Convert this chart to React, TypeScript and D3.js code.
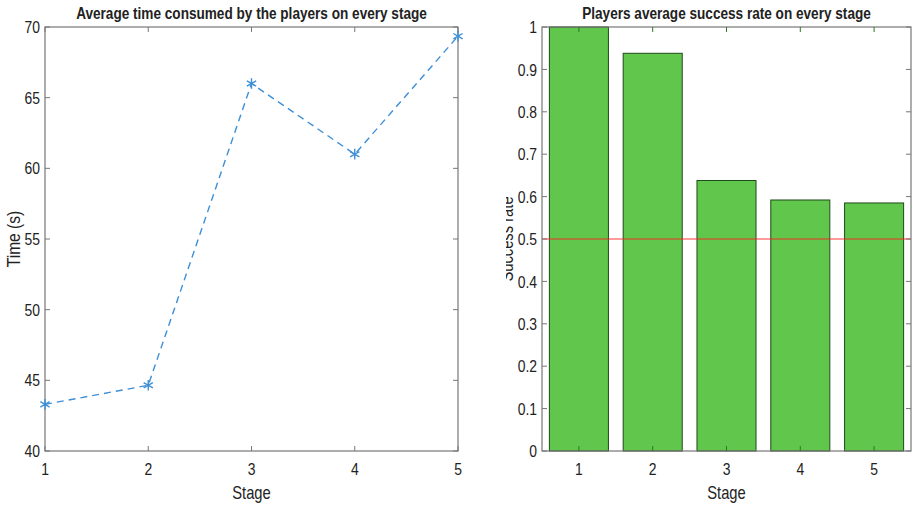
import * as React from 'react';
import {useEffect, useRef} from 'react';
import * as d3 from 'd3';

const W = 913;
const H = 507;

const stages = [1, 2, 3, 4, 5];
const avgTime = [43.3, 44.65, 66.0, 61.0, 69.35];
const successRate = [1.0, 0.938, 0.638, 0.592, 0.585];
const timeTicks = [40, 45, 50, 55, 60, 65, 70];
const rateTicks = [0, 0.1, 0.2, 0.3, 0.4, 0.5, 0.6, 0.7, 0.8, 0.9, 1];
const threshold = 0.5;

const font = "'Liberation Sans', Arial, sans-serif";
const axisColor = '#777';
const textColor = '#222';
const squeeze = 0.82; // the original text is narrow, like a condensed Helvetica

// small helper: text that is squeezed horizontally
const label = (g: any, x: number, y: number, str: string | number, size: number,
  anchor = 'middle', rot = 0, bold = false, dy = '0') =>
  g.append('text')
    .attr('transform', `translate(${x},${y}) rotate(${rot}) scale(${squeeze},1)`)
    .attr('text-anchor', anchor)
    .attr('dy', dy)
    .attr('font-size', size)
    .attr('font-weight', bold ? 'bold' : 'normal')
    .attr('fill', textColor)
    .text(str);

export default function App() {
  const ref = useRef<SVGSVGElement>(null);

  useEffect(() => {
    const svg = d3.select(ref.current!);
    svg.selectAll('*').remove();
    svg.style('font-family', font);

    // ---- left: line chart ----
    const L = {left: 45, right: 458, top: 27, bottom: 451};
    const x1 = d3.scaleLinear().domain([1, 5]).range([L.left, L.right]);
    const y1 = d3.scaleLinear().domain([40, 70]).range([L.bottom, L.top]);
    const g1 = svg.append('g');

    g1.append('rect')
      .attr('x', L.left).attr('y', L.top)
      .attr('width', L.right - L.left).attr('height', L.bottom - L.top)
      .attr('fill', 'white').attr('stroke', axisColor).attr('stroke-width', 1.2);

    const tl = 5;
    stages.forEach(s => {
      const x = x1(s);
      g1.append('line').attr('x1', x).attr('x2', x).attr('y1', L.bottom).attr('y2', L.bottom - tl).attr('stroke', axisColor);
      g1.append('line').attr('x1', x).attr('x2', x).attr('y1', L.top).attr('y2', L.top + tl).attr('stroke', axisColor);
      label(g1, x, 475, s, 17);
    });
    timeTicks.forEach(t => {
      const y = y1(t);
      g1.append('line').attr('x1', L.left).attr('x2', L.left + tl).attr('y1', y).attr('y2', y).attr('stroke', axisColor);
      g1.append('line').attr('x1', L.right).attr('x2', L.right - tl).attr('y1', y).attr('y2', y).attr('stroke', axisColor);
      label(g1, L.left - 5, y, t, 17, 'end', 0, false, '0.36em');
    });

    const line = d3.line<number>().x((_, i) => x1(stages[i])).y(d => y1(d));
    g1.append('path').datum(avgTime).attr('d', line)
      .attr('fill', 'none').attr('stroke', '#3d8fd6').attr('stroke-width', 1.4)
      .attr('stroke-dasharray', '7,5');

    const star = d3.symbol().type(d3.symbolAsterisk).size(80);
    g1.selectAll('.mk').data(avgTime).join('path')
      .attr('transform', (d, i) => `translate(${x1(stages[i])},${y1(d)})`)
      .attr('d', star()).attr('fill', 'none').attr('stroke', '#3d8fd6').attr('stroke-width', 1.4);

    label(g1, (L.left + L.right) / 2, 19, 'Average time consumed by the players on every stage', 16.6, 'middle', 0, true);
    label(g1, (L.left + L.right) / 2, 499, 'Stage', 18);
    label(g1, 20, (L.top + L.bottom) / 2, 'Time (s)', 19, 'middle', -90);

    // ---- right: bar chart ----
    const R = {left: 542, right: 911, top: 27, bottom: 451};
    const x2 = d3.scaleLinear().domain([0.5, 5.5]).range([R.left, R.right]);
    const y2 = d3.scaleLinear().domain([0, 1]).range([R.bottom, R.top]);
    const g2 = svg.append('g');

    g2.append('defs').append('clipPath').attr('id', 'ylab-clip')
      .append('rect').attr('x', 506).attr('y', 0).attr('width', 40).attr('height', H);

    g2.append('rect')
      .attr('x', R.left).attr('y', R.top)
      .attr('width', R.right - R.left).attr('height', R.bottom - R.top)
      .attr('fill', 'white');

    const bw = 0.8;
    g2.selectAll('.bar').data(successRate).join('rect')
      .attr('x', (_, i) => x2(stages[i] - bw / 2))
      .attr('width', x2(bw) - x2(0))
      .attr('y', d => y2(d))
      .attr('height', d => R.bottom - y2(d))
      .attr('fill', '#61c64c').attr('stroke', '#1e4a1a').attr('stroke-width', 1);

    g2.append('line').attr('x1', R.left).attr('x2', R.right).attr('y1', y2(threshold)).attr('y2', y2(threshold))
      .attr('stroke', '#ff2020').attr('stroke-opacity', 0.6).attr('stroke-width', 1.5);

    g2.append('rect')
      .attr('x', R.left).attr('y', R.top)
      .attr('width', R.right - R.left).attr('height', R.bottom - R.top)
      .attr('fill', 'none').attr('stroke', axisColor).attr('stroke-width', 1.2);

    stages.forEach(s => {
      const x = x2(s);
      g2.append('line').attr('x1', x).attr('x2', x).attr('y1', R.bottom).attr('y2', R.bottom - tl).attr('stroke', '#2a7a22');
      g2.append('line').attr('x1', x).attr('x2', x).attr('y1', R.top).attr('y2', R.top + tl).attr('stroke', '#2a7a22');
      label(g2, x, 475, s, 17);
    });
    rateTicks.forEach(t => {
      const y = y2(t);
      g2.append('line').attr('x1', R.left).attr('x2', R.left + tl).attr('y1', y).attr('y2', y).attr('stroke', axisColor);
      g2.append('line').attr('x1', R.right).attr('x2', R.right - tl).attr('y1', y).attr('y2', y).attr('stroke', axisColor);
      label(g2, R.left - 5, y, t, 17, 'end', 0, false, '0.36em');
    });

    label(g2, (R.left + R.right) / 2, 19, 'Players average success rate on every stage', 16.6, 'middle', 0, true);
    label(g2, (R.left + R.right) / 2, 499, 'Stage', 18);
    // label is partly hidden behind the left panel in the original
    const clipped = g2.append('g').attr('clip-path', 'url(#ylab-clip)');
    label(clipped, 513, y2(0.5), 'Success rate', 18, 'middle', -90);
  }, []);

  return <svg ref={ref} width={W} height={H} style={{position: 'absolute', left: 0, top: 0}} />;
}
